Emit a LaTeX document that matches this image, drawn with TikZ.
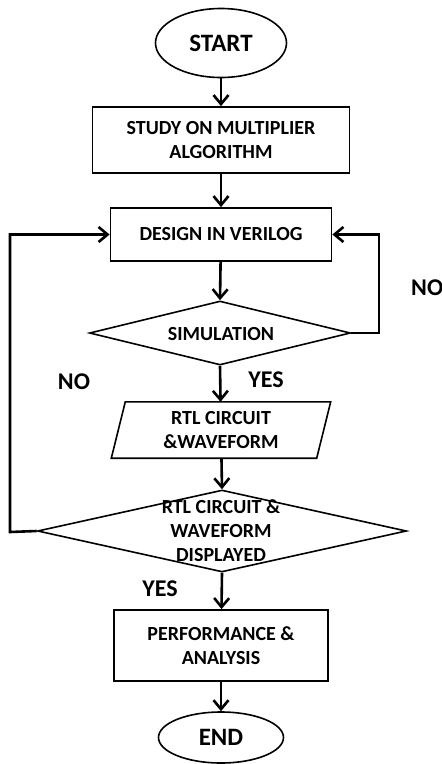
\documentclass[tikz,border=0pt]{standalone}
\usepackage{fontspec}
\setmainfont{Carlito}
\usetikzlibrary{shapes.geometric,arrows.meta,calc}
\begin{document}
\begin{tikzpicture}[x=1pt,y=1pt,
  every node/.style={font=\bfseries\fontsize{20}{24}\selectfont, inner sep=0pt, align=center, text=black},
  termbox/.style={draw, ellipse, line width=1.6pt, font=\bfseries\fontsize{25}{30}\selectfont},
  procbox/.style={draw, rectangle, line width=1.8pt},
  decbox/.style={draw, diamond, line width=1.6pt},
  lbl/.style={font=\bfseries\fontsize{24}{28}\selectfont},
  conn/.style={line width=2.6pt, -{Straight Barb[length=9pt,width=15pt,line width=2.6pt]}},
  loopline/.style={line width=2.6pt, -{Straight Barb[length=9pt,width=15pt,line width=2.6pt]}}
]
\useasboundingbox (0,0) rectangle (442,-764);
\fill[white] (0,0) rectangle (442,-764);

\node[termbox, minimum width=131pt, minimum height=69pt] (start) at (221,-43) {START};
\node[procbox, minimum width=257pt, minimum height=66pt] (study) at (221,-140) {STUDY ON MULTIPLIER\\ALGORITHM};
\node[procbox, minimum width=221pt, minimum height=53pt] (design) at (221,-234.5) {DESIGN IN VERILOG};
\node[decbox, minimum width=261pt, minimum height=64pt] (sim) at (220,-333) {};
\node (simtxt) at (221,-334) {SIMULATION};
\node[minimum width=205pt, minimum height=56pt] (rtl) at (221,-430) {RTL CIRCUIT\\\&WAVEFORM};
\draw[line width=1.6pt] ([xshift=7pt]rtl.north west) -- ([xshift=7pt]rtl.north east)
  -- ([xshift=-7pt]rtl.south east) -- ([xshift=-7pt]rtl.south west) -- cycle;
\node[decbox, minimum width=369pt, minimum height=82pt] (disp) at (222,-531) {};
\node (disptxt) at (221,-531) {RTL CIRCUIT \&\\WAVEFORM\\DISPLAYED};
\node[procbox, minimum width=214pt, minimum height=71pt] (perf) at (221,-645.5) {PERFORMANCE \&\\ANALYSIS};
\node[termbox, minimum width=125pt, minimum height=51pt] (end) at (221,-737.5) {END};

\coordinate (rc) at (379,-333);
\coordinate (lc) at (10,-532);

\draw[conn] (start) -- (study);
\draw[conn] (study) -- (design);
\draw[conn] (design) -- (sim.north);
\draw[conn] (sim.south) -- (rtl);
\draw[conn] (rtl) -- (disp.north);
\draw[conn] (disp.south) -- (perf);
\draw[conn] (perf) -- (end);
\draw[loopline] (sim.east) -- (rc) |- (design.east);
\draw[loopline] (disp.west) -- (lc) |- (design.west);

\node[lbl, anchor=west] (no1) at (411,-288) {NO};
\node[lbl] (no2) at (74,-382) {NO};
\node[lbl] (yes1) at (266,-380) {YES};
\node[lbl] (yes2) at (160,-589) {YES};
\end{tikzpicture}
\end{document}
